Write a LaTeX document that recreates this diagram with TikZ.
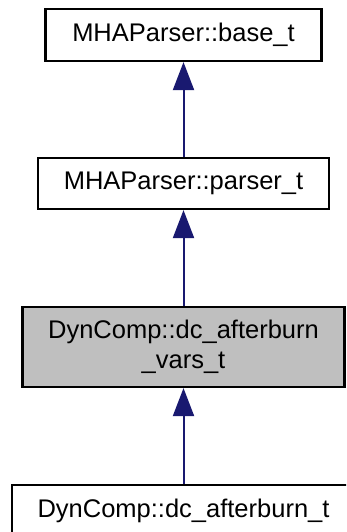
\documentclass[tikz,border=0pt]{standalone}
\usepackage{fontspec}
\setmainfont{Liberation Sans}
\usetikzlibrary{arrows.meta}
\definecolor{edgeblue}{HTML}{191970}
\definecolor{hlgray}{HTML}{BFBFBF}
\begin{document}
\begin{tikzpicture}[x=1pt,y=-1pt,
  cls/.style={draw=black,line width=2.2pt,fill=white,inner sep=0pt,align=center,font=\fontsize{25.5}{30}\selectfont},
  inh/.style={draw=edgeblue,line width=2pt,-{Triangle[width=21pt,length=28pt]}}]
\useasboundingbox (0,0) rectangle (346,532);
\clip (0,0) rectangle (346,532);
\node[cls,minimum width=276pt,minimum height=52pt] (base) at (183.5,35) {MHAParser::base\_t};
\node[cls,minimum width=291pt,minimum height=51pt] (parser) at (183.5,183.5) {MHAParser::parser\_t};
\node[cls,fill=hlgray,minimum width=322pt,minimum height=80pt] (vars) at (183.5,347) {DynComp::dc\_afterburn\\\_vars\_t};
\node[cls,minimum width=343pt,minimum height=52pt] (burn) at (183.5,511) {DynComp::dc\_afterburn\_t};
\draw[inh] (parser.north) -- (base.south);
\draw[inh] (vars.north) -- (parser.south);
\draw[inh] (burn.north) -- (vars.south);
\end{tikzpicture}
\end{document}
